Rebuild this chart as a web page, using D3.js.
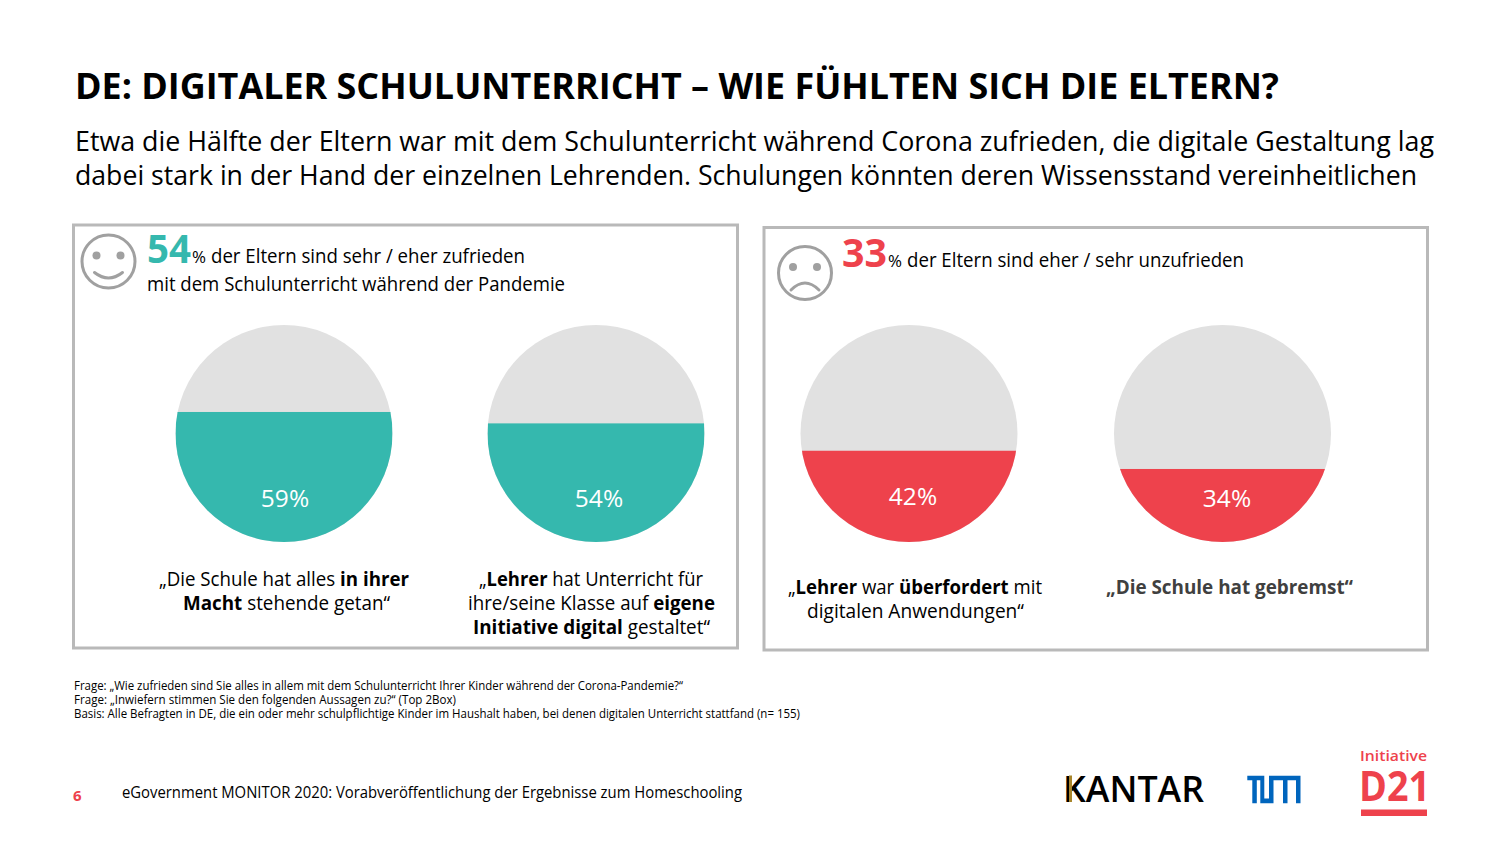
<!DOCTYPE html>
<html lang="de">
<head>
<meta charset="utf-8">
<title>Digitaler Schulunterricht</title>
<script src="https://cdn.jsdelivr.net/npm/d3@7"></script>
<style>
  html, body { margin: 0; background: #fff; }
  svg { display: block; font-family: "Open Sans", "Noto Sans", sans-serif; }
</style>
</head>
<body>
<div id="chart"></div>
<script>
const TEAL = "#35b8ae";
const RED = "#ee424c";
const REST = "#e1e1e1";
const FRAME = "#b9b9b9";
const FACE = "#a0a0a0";

// Data
const categories = ["schule-alles", "lehrer-initiative", "lehrer-ueberfordert", "schule-gebremst"];
const shares = [59, 54, 42, 34];
const seriesColors = [TEAL, TEAL, RED, RED];
const quotes = [
  [[["„Die Schule hat alles ", 0], ["in ihrer", 1]], [["Macht", 1], [" stehende getan“", 0]]],
  [[["„", 0], ["Lehrer", 1], [" hat Unterricht für", 0]], [["ihre/seine Klasse auf ", 0], ["eigene", 1]], [["Initiative digital", 1], [" gestaltet“", 0]]],
  [[["„", 0], ["Lehrer", 1], [" war ", 0], ["überfordert", 1], [" mit", 0]], [["digitalen Anwendungen“", 0]]],
  [[["„Die Schule hat gebremst“", 1]]]
];
const footnotes = [
  "Frage: „Wie zufrieden sind Sie alles in allem mit dem Schulunterricht Ihrer Kinder während der Corona-Pandemie?“",
  "Frage: „Inwiefern stimmen Sie den folgenden Aussagen zu?“ (Top 2Box)",
  "Basis: Alle Befragten in DE, die ein oder mehr schulpflichtige Kinder im Haushalt haben, bei denen digitalen Unterricht stattfand (n= 155)"
];

const width = 1500;
const height = 844;
const radius = 108.5;
const circleTop = 325;
const centerY = circleTop + radius;

const x = d3.scaleOrdinal().domain(categories).range([284, 596, 909, 1222.5]);
// The slide's fill lines are hand placed: fitted to where they sit, not to the diameter
const level = d3.scaleLinear().domain([0, 100]).range([546.5, 318.5]);

const svg = d3.select("#chart").append("svg")
  .attr("width", width)
  .attr("height", height)
  .attr("viewBox", `0 0 ${width} ${height}`);

// The original font (Segoe UI) runs narrower, so lines get squeezed to its width.
function squeeze(sel, w) {
  return sel.attr("textLength", w).attr("lengthAdjust", "spacingAndGlyphs");
}

function addText(px, py, str, size, opts = {}) {
  const t = svg.append("text")
    .attr("x", px)
    .attr("y", py)
    .attr("font-size", size)
    .attr("font-weight", opts.weight ?? 400)
    .attr("fill", opts.fill ?? "#000")
    .attr("text-anchor", opts.anchor ?? "start")
    .text(str);
  if (opts.fit) squeeze(t, opts.fit);
  return t;
}

addText(75, 99, "DE: DIGITALER SCHULUNTERRICHT – WIE FÜHLTEN SICH DIE ELTERN?", 36, { weight: 700, fit: 1204 });
addText(75, 151, "Etwa die Hälfte der Eltern war mit dem Schulunterricht während Corona zufrieden, die digitale Gestaltung lag", 27, { fit: 1359 });
addText(75, 185, "dabei stark in der Hand der einzelnen Lehrenden. Schulungen könnten deren Wissensstand vereinheitlichen", 27, { fit: 1342 });

// Panels
svg.append("rect").attr("x", 73.5).attr("y", 225).attr("width", 664).attr("height", 423)
  .attr("fill", "none").attr("stroke", FRAME).attr("stroke-width", 3);
svg.append("rect").attr("x", 764).attr("y", 227.5).attr("width", 663.5).attr("height", 422.5)
  .attr("fill", "none").attr("stroke", FRAME).attr("stroke-width", 3);

// Smileys
function face(cx, cy, mouth) {
  const g = svg.append("g").attr("transform", `translate(${cx},${cy})`)
    .attr("fill", "none").attr("stroke", FACE).attr("stroke-width", 3);
  g.append("circle").attr("r", 26.5);
  g.append("path").attr("d", mouth).attr("stroke-linecap", "round");
  g.selectAll("circle.eye").data([-12, 12]).join("circle")
    .attr("class", "eye").attr("cx", d => d).attr("cy", -6).attr("r", 4)
    .attr("fill", FACE).attr("stroke", "none");
}
face(108.5, 261.5, "M -14 11 Q 0 22 14 11");
face(805, 273, "M -14 17 Q 0 3 14 17");

// Panel headlines
addText(147, 263, "54", 40, { weight: 700, fill: TEAL, fit: 44 });
addText(192, 263, "%", 17, { fit: 14 });
addText(211, 263, "der Eltern sind sehr / eher zufrieden", 20, { fit: 314 });
addText(147, 291, "mit dem Schulunterricht während der Pandemie", 20, { fit: 418 });
addText(842, 267, "33", 40, { weight: 700, fill: RED, fit: 45 });
addText(888, 267, "%", 17, { fit: 14 });
addText(907, 267, "der Eltern sind eher / sehr unzufrieden", 20, { fit: 337 });

// Half-filled circles
const defs = svg.append("defs");
categories.forEach((c) => {
  defs.append("clipPath").attr("id", `clip-${c}`)
    .append("circle").attr("cx", x(c)).attr("cy", centerY).attr("r", radius);
});

const labelX = [285, 599, 913, 1227];
const pie = svg.selectAll("g.pie").data(categories).join("g").attr("class", "pie");
pie.append("circle")
  .attr("cx", d => x(d)).attr("cy", centerY).attr("r", radius).attr("fill", REST);
pie.append("rect")
  .attr("clip-path", d => `url(#clip-${d})`)
  .attr("x", d => x(d) - radius)
  .attr("width", 2 * radius)
  .attr("y", (d, i) => level(shares[i]))
  .attr("height", (d, i) => level(0) - level(shares[i]))
  .attr("fill", (d, i) => seriesColors[i]);
pie.append("text")
  .attr("x", (d, i) => labelX[i])
  .attr("y", (d, i) => (i === 2 ? 505 : 507))
  .attr("text-anchor", "middle")
  .attr("font-size", 24.5)
  .attr("fill", "#fff")
  .text((d, i) => `${shares[i]}%`);

// Quotes under the circles. Mixed weights: each run is its own text, laid end to end.
const quoteX = [[284, 286.5], [591, 591.5, 591.5], [915, 915.5], [1229.5]];
const quoteW = [[250, 207], [224, 247, 237], [254, 217], [247]];
const quoteY = [586, 586, 594, 594];
quotes.forEach((lines, i) => {
  lines.forEach((parts, j) => {
    const runs = parts.map((d) => svg.append("text")
      .attr("y", quoteY[i] + j * 24)
      .attr("font-size", 20)
      .attr("font-weight", d[1] ? 700 : 400)
      .attr("fill", i === 3 ? "#404040" : "#000")
      .style("white-space", "pre")
      .text(d[0]));
    const natural = runs.map((r) => r.node().getComputedTextLength());
    const k = quoteW[i][j] / d3.sum(natural);
    let cursor = quoteX[i][j] - quoteW[i][j] / 2;
    runs.forEach((r, n) => {
      squeeze(r.attr("x", cursor), natural[n] * k);
      cursor += natural[n] * k;
    });
  });
});

// Footnotes and footer
const footnoteW = [609, 382, 726];
footnotes.forEach((line, i) => addText(74, 690 + i * 14, line, 12, { fit: footnoteW[i] }));
addText(73, 801, "6", 15, { weight: 700, fill: RED });
addText(122, 798, "eGovernment MONITOR 2020: Vorabveröffentlichung der Ergebnisse zum Homeschooling", 16, { fit: 620 });

// Logos
addText(1063, 802, "KANTAR", 36, { weight: 600, fit: 141 });
svg.append("rect").attr("x", 1069).attr("y", 775.5).attr("width", 3).attr("height", 26.5).attr("fill", "#a8862c");
svg.append("path").attr("fill", "#0065bd")
  .attr("d", "M1247.3 775.7H1264.3V798.5H1269V775.7H1300.5V803.2H1296V780.3H1287.5V803.2H1283V780.3H1273.5V803.2H1260.3V780.3H1256.8V803.2H1252.3V780.3H1247.3Z");
addText(1360, 760.5, "Initiative", 15, { weight: 600, fill: RED, fit: 67 });
addText(1359, 800.5, "D21", 42, { weight: 700, fill: RED, fit: 71 });
svg.append("rect").attr("x", 1361).attr("y", 809.5).attr("width", 66).attr("height", 6.5).attr("fill", RED);
</script>
</body>
</html>
